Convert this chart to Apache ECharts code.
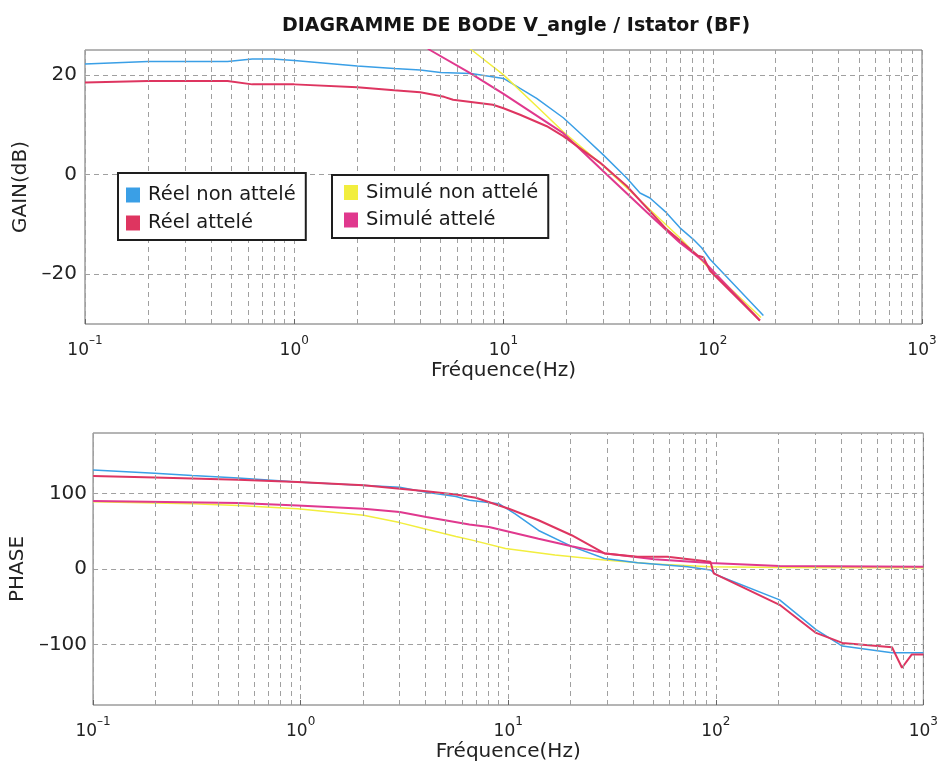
<!DOCTYPE html>
<html>
<head>
<meta charset="utf-8">
<script src="https://cdn.jsdelivr.net/npm/echarts@6/dist/echarts.min.js"></script>
<style>
html,body{margin:0;padding:0;background:#fff;}
#chart{width:941px;height:766px;}
</style>
</head>
<body>
<div id="chart"></div>
<script>
// ---------- DATA ----------
const titleText = 'DIAGRAMME DE BODE V_angle / Istator (BF)';
const seriesNames = ['Réel non attelé', 'Réel attelé', 'Simulé non attelé', 'Simulé attelé'];

// Gain (dB) : [frequency Hz, value]
const gainReelNonAttele = [
  [0.1,22.2],[0.2,22.7],[0.48,22.7],[0.63,23.2],[0.79,23.2],[1.0,22.9],[2.0,21.8],[3.0,21.3],
  [4.0,21.0],[5.0,20.5],[7.0,20.3],[10,19.3],[14.4,15.3],[19.3,11.4],[24.1,7.7],[29.9,4.0],
  [38.8,-0.7],[44.9,-3.7],[50.1,-4.7],[60.2,-7.7],[69.7,-10.7],[80.7,-13],[88.5,-14.7],[97,-17],[174.6,-28.3]
];
const gainReelAttele = [
  [0.1,18.5],[0.2,18.8],[0.48,18.8],[0.63,18.1],[1.0,18.1],[2.0,17.5],[3.0,16.9],[4.0,16.5],
  [5.2,15.6],[5.74,15.0],[8.9,14.0],[10,13.3],[12.0,12.0],[16.1,9.7],[19.3,7.7],[28.9,2.4],
  [38.8,-2.3],[60.2,-11],[85,-16.3],[90.2,-16.6],[97,-19.3],[168,-29.3]
];
const gainSimuleNonAttele = [
  [6.5,26.3],[7.05,25],[10,20],[14.4,13.7],[19.3,8.6],[29.9,1.8],[40.3,-3.3],[70,-12.8],[97,-19],[170,-28.7]
];
const gainSimuleAttele = [
  [4.0,26.5],[4.45,25],[6.9,20.4],[10,16.2],[19.3,8.3],[29.9,0.7],[48.3,-7.5],[69.7,-13.7],[90,-17.3],[168,-29.3]
];

// Phase (deg) : [frequency Hz, value]
const phaseReelNonAttele = [
  [0.1,131],[0.198,126.7],[0.3,123.7],[0.5,120.6],[0.966,115],[3.0,108.3],[4.03,101.7],[5.6,96],
  [6.5,91],[9.0,86.4],[10.8,73],[14.0,51],[20.2,30],[29.1,14],[42,8.3],[73,3],[94.2,-1.3],[101,-7.9],
  [203,-40.8],[304,-80.3],[407,-102],[706,-111],[1000,-111]
];
const phaseReelAttele = [
  [0.1,123],[0.198,121],[0.5,118],[0.966,115],[2.01,111],[4.03,103],[5.6,98.7],[6.98,94.3],
  [10.07,79.8],[14.0,64.5],[20.2,44.7],[29.1,20.6],[42,16.2],[58.5,16.2],[94.2,9.6],[97.7,-5.7],
  [203,-47.4],[304,-84.6],[407,-97.8],[706,-103.5],[789,-130.7],[880,-113],[1000,-113]
];
const phaseSimuleNonAttele = [
  [0.1,89],[0.3,86.4],[0.5,84],[0.966,79.8],[2.01,71],[3.0,61.4],[3.9,53.5],[5.6,43],[6.7,38.2],
  [9.7,27.2],[16.8,18.4],[29.1,11.8],[50.5,6.6],[94.2,3],[203,2],[1000,1.5]
];
const phaseSimuleAttele = [
  [0.1,89.9],[0.5,87.3],[0.966,84.2],[2.01,79.8],[3.0,75.4],[4.03,68.9],[6.5,58.8],[8.08,55.7],
  [14.0,40],[20.2,30],[29.1,21],[50.5,13],[94.2,8],[203,4],[1000,3]
];

// Grid / ticks
const minorFreqs = [0.2,0.3,0.4,0.5,0.6,0.7,0.8,0.9, 2,3,4,5,6,7,8,9, 20,30,40,50,60,70,80,90, 200,300,400,500,600,700,800,900];
const gainTicks = [-20, 0, 20];
const phaseTicks = [-100, 0, 100];

// ---------- STYLE ----------
const FONT = 'DejaVu Sans';
const colors = {
  'Réel non attelé': '#3a9fe6',
  'Réel attelé': '#de3560',
  'Simulé non attelé': '#f2ee3e',
  'Simulé attelé': '#e0388e'
};
const widths = {'Réel non attelé':1.5,'Réel attelé':2,'Simulé non attelé':1.5,'Simulé attelé':2};
const gridLine = {color:'#a0a0a0', width:1, type:[5,4]};

function minusFmt(v){ return String(v).replace('-', '–'); }

function xAxisDef(gi){
  return {
    type:'log', logBase:10, min:0.1, max:1000, gridIndex:gi,
    name:'Fréquence(Hz)', nameLocation:'middle', nameGap:35,
    nameTextStyle:{fontFamily:FONT, fontSize:20, color:'#222', verticalAlign:'top', lineHeight:20},
    axisLine:{show:false, onZero:false},
    axisTick:{show:true, inside:true, length:5, lineStyle:{color:'#666'}},
    minorTick:{show:false},
    splitLine:{show:true, lineStyle:gridLine},
    axisLabel:{
      margin:11,
      formatter:function(v){
        const e = Math.round(Math.log10(v));
        return '{b|10}{s|' + minusFmt(e) + '}';
      },
      rich:{
        b:{fontFamily:FONT, fontSize:17, color:'#222', lineHeight:32, verticalAlign:'middle'},
        s:{fontFamily:FONT, fontSize:12, color:'#222', lineHeight:12, verticalAlign:'top'}
      }
    }
  };
}

function yAxisDef(gi, name, min, max, interval, ticks, gap, margin){
  return {
    type:'value', gridIndex:gi, min:min, max:max, interval:interval,
    name:name, nameLocation:'middle', nameGap:gap,
    nameTextStyle:{fontFamily:FONT, fontSize:20, color:'#222'},
    axisLine:{show:false},
    axisTick:{show:false},
    splitLine:{show:false},
    axisLabel:{
      margin:margin, fontFamily:FONT, fontSize:20, color:'#222',
      formatter:function(v){ return ticks.indexOf(v) >= 0 ? minusFmt(v) : ''; }
    }
  };
}

function gridHelper(gi, ticks){
  return {
    type:'line', name:'grid'+gi, xAxisIndex:gi, yAxisIndex:gi, data:[], silent:true, z:1,
    markLine:{
      silent:true, symbol:['none','none'], animation:false,
      label:{show:false},
      lineStyle:gridLine,
      data: minorFreqs.map(f => ({xAxis:f})).concat(ticks.map(t => ({yAxis:t})))
    }
  };
}

function lineSeries(name, gi, data){
  return {
    type:'line', name:name, xAxisIndex:gi, yAxisIndex:gi, data:data,
    showSymbol:false, symbol:'none', clip:true, z:3,
    lineStyle:{color:colors[name], width:widths[name]},
    itemStyle:{color:colors[name]}
  };
}

const legendText = {fontFamily:FONT, fontSize:19.5, color:'#1a1a1a', lineHeight:20, padding:[0,0,0,3]};

const option = {
  animation:false,
  backgroundColor:'#fff',
  title:{
    text:titleText, left:511, textAlign:'center', top:12,
    textStyle:{fontFamily:FONT, fontWeight:'bold', fontSize:19, color:'#151515'}
  },
  grid:[
    {left:85, right:19, top:50, height:274, show:true, borderColor:'#6a6a6a', borderWidth:1, backgroundColor:'transparent'},
    {left:87, right:16, top:433, height:272, show:true, borderColor:'#6a6a6a', borderWidth:1, backgroundColor:'transparent'}
  ],
  legend:[
    {
      data:['Réel non attelé','Réel attelé'], orient:'vertical', left:118, top:173,
      icon:'rect', itemWidth:14, itemHeight:15, itemGap:8, padding:[12,10,7,8],
      borderColor:'#1e1e1e', borderWidth:2, backgroundColor:'#fff', textStyle:legendText,
      selectedMode:false, z:10
    },
    {
      data:['Simulé non attelé','Simulé attelé'], orient:'vertical', left:332, top:175,
      icon:'rect', itemWidth:14, itemHeight:15, itemGap:7.5, padding:[7.5,10,8,12],
      borderColor:'#1e1e1e', borderWidth:2, backgroundColor:'#fff', textStyle:legendText,
      selectedMode:false, z:10
    }
  ],
  xAxis:[xAxisDef(0), xAxisDef(1)],
  yAxis:[
    yAxisDef(0, 'GAIN(dB)', -30, 25, 10, gainTicks, 50, 8),
    yAxisDef(1, 'PHASE', -180, 180, 20, phaseTicks, 64, 6)
  ],
  series:[
    gridHelper(0, gainTicks),
    gridHelper(1, phaseTicks),
    lineSeries('Réel non attelé', 0, gainReelNonAttele),
    lineSeries('Simulé non attelé', 0, gainSimuleNonAttele),
    lineSeries('Simulé attelé', 0, gainSimuleAttele),
    lineSeries('Réel attelé', 0, gainReelAttele),
    lineSeries('Simulé non attelé', 1, phaseSimuleNonAttele),
    lineSeries('Réel non attelé', 1, phaseReelNonAttele),
    lineSeries('Simulé attelé', 1, phaseSimuleAttele),
    lineSeries('Réel attelé', 1, phaseReelAttele)
  ]
};

const chart = echarts.init(document.getElementById('chart'), null, {renderer:'canvas'});
chart.setOption(option);
</script>
</body>
</html>
